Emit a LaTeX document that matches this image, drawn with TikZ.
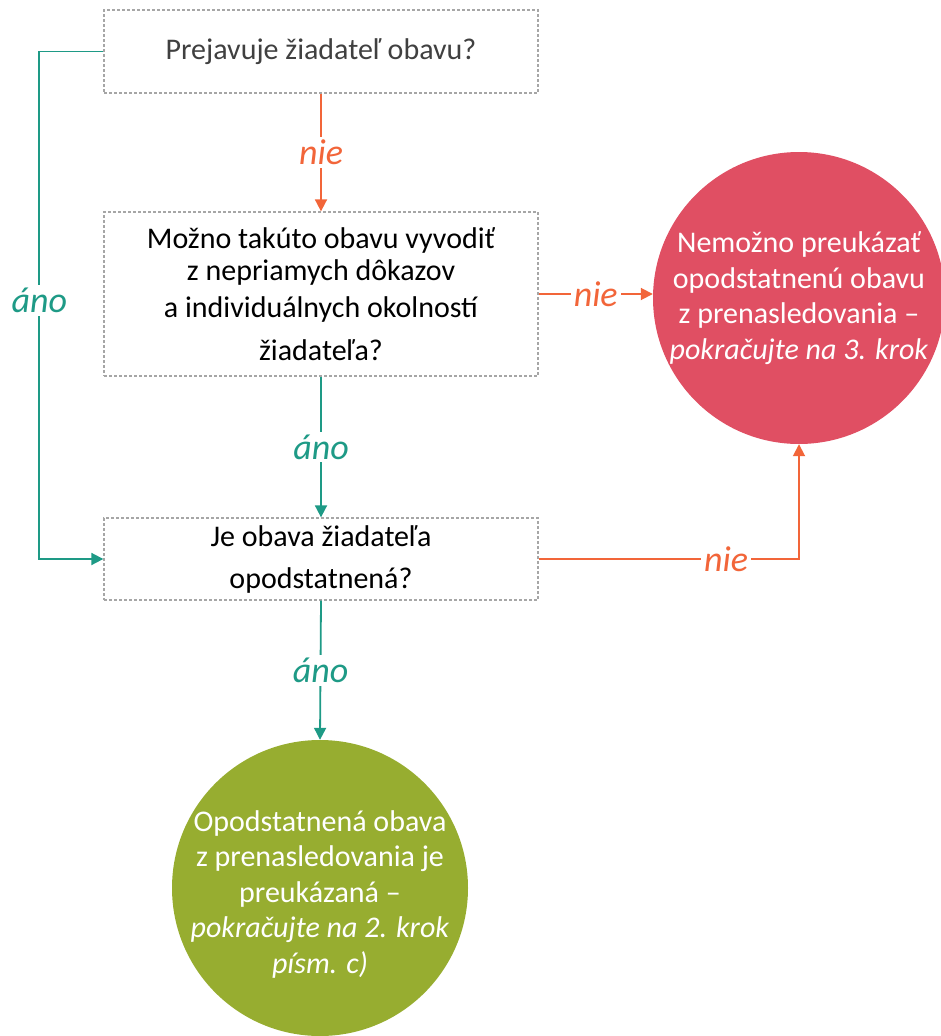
\documentclass[tikz,border=0pt]{standalone}
\usepackage{fontspec}
\setmainfont{Carlito}
\usetikzlibrary{arrows.meta}
\definecolor{flowno}{HTML}{F26539}
\definecolor{flowyes}{HTML}{1E9A86}
\definecolor{stopred}{HTML}{E04F63}
\definecolor{goolive}{HTML}{97AD30}
\definecolor{boxedge}{HTML}{A6A6A6}
\definecolor{softtext}{HTML}{404040}
\tikzset{
  qbox/.style={draw=boxedge, line width=1.3pt, dash pattern=on 3pt off 2pt,
    minimum width=434pt, align=center, font=\fontsize{30}{32}\selectfont, inner sep=0pt},
  endcirc/.style={circle, minimum size=#1, inner sep=0pt},
  endtext/.style={text=white, align=center, inner sep=0pt,
    font=\fontsize{30}{35.5}\selectfont},
  noline/.style={draw=flowno, line width=1.8pt, -{Triangle[length=12pt,width=12pt]}},
  yesline/.style={draw=flowyes, line width=1.8pt, -{Triangle[length=12pt,width=12pt]}},
  lbl/.style={fill=white, inner sep=3pt, font=\fontsize{36}{36}\selectfont\itshape},
}
\begin{document}
\begin{tikzpicture}[x=1pt,y=-1pt]
\useasboundingbox (0,0) rectangle (941,1036);

% question boxes
\node[qbox, minimum height=83pt, text=softtext] (q1) at (321,51.5) {Prejavuje žiadateľ obavu?};
\node[qbox, minimum height=164pt] (q2) at (321,294)
  {Možno takúto obavu vyvodiť\\z nepriamych dôkazov\\[5pt]a individuálnych okolností\\[11pt]žiadateľa?};
\node[qbox, minimum height=82pt] (q3) at (321,559)
  {Je obava žiadateľa\\[10pt]opodstatnená?};

% outcomes
\node[endcirc=292pt, fill=stopred] (stop) at (799,298) {};
\node[endtext] (stoptext) at (stop.center)
  {Nemožno preukázať\\opodstatnenú obavu\\z prenasledovania –\\\textit{pokračujte na 3. krok}};
\node[endcirc=296pt, fill=goolive] (go) at (320,888) {};
\node[endtext] (gotext) at (320,894)
  {Opodstatnená obava\\z prenasledovania je\\preukázaná –\\\textit{pokračujte na 2. krok}\\\textit{písm. c)}};

% connectors
\draw[noline] (q1.south) -- (q2.north) node[midway, lbl, text=flowno] {nie};
\draw[noline] (q2.east) -- (q2.east -| stop.west) node[midway, lbl, text=flowno] {nie};
\draw[yesline] (q2.south) -- (q3.north) node[midway, lbl, text=flowyes] {áno};
\draw[yesline] (q1.west) -- ++(-64,0) |- (q3.west) node[pos=0.245, lbl, text=flowyes] {áno};
\draw[noline] (q3.east) -| (stop.south) node[pos=0.36, lbl, text=flowno] {nie};
\draw[yesline] (q3.south) -- (go.north) node[midway, lbl, text=flowyes] {áno};
\end{tikzpicture}
\end{document}
